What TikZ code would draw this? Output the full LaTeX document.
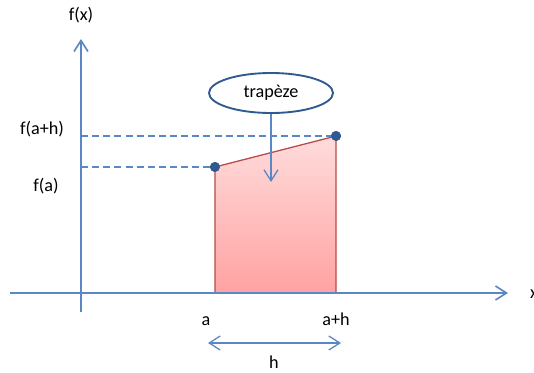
\documentclass[tikz,border=0pt]{standalone}
\usepackage{fontspec}
\setmainfont{Carlito}
\usetikzlibrary{arrows.meta,shapes.geometric}
\definecolor{axisblue}{HTML}{5B87C5}
\definecolor{dotblue}{HTML}{2F5A8F}
\definecolor{edgered}{HTML}{B94A48}
\definecolor{pinktop}{HTML}{FFDCDC}
\definecolor{pinkbot}{HTML}{FFA2A2}
\tikzset{
  axisline/.style={axisblue,line width=1.4pt},
  guide/.style={axisblue,line width=1pt,dash pattern=on 6pt off 3.5pt},
  pt/.style={circle,fill=dotblue,inner sep=0pt,minimum size=8.5pt},
  lab/.style={anchor=base}
}
\begin{document}
\begin{tikzpicture}[>={Straight Barb[length=3.3mm,width=4.2mm]},x=0.03cm,y=-0.03cm,
  font=\fontsize{15.5}{19}\selectfont]
  \useasboundingbox (0,0) rectangle (534,373);
  % axes
  \coordinate (xs) at (10,293);
  \coordinate (xe) at (508,293);
  \coordinate (ys) at (81,312);
  \coordinate (ye) at (81,39);
  % trapezoid corners
  \coordinate (A) at (215,293);
  \coordinate (B) at (336,293);
  \node[pt] (fa) at (215,167) {};
  \node[pt] (fah) at (336,136) {};
  \shade[top color=pinktop,bottom color=pinkbot]
    (A) -- (fa.center) -- (fah.center) -- (B) -- cycle;
  \draw[edgered,line width=1.1pt] (A) -- (fa.center) -- (fah.center) -- (B);
  \node[pt] at (fa) {};
  \node[pt] at (fah) {};
  \draw[guide] (81,167) -- (fa);
  \draw[guide] (81,136) -- (fah);
  \draw[axisline,->] (xs) -- (xe);
  \draw[axisline,->] (ys) -- (ye);
  % labels
  \node (fx) at (81,15) {f(x)};
  \node (lfah) at (42,129) {f(a+h)};
  \node (lfa) at (46,186) {f(a)};
  \node[lab] (la) at (206,325) {a};
  \node[lab] (lah) at (336,325) {a+h};
  \node[lab] (lh) at (274,368) {h};
  \node[anchor=base west,inner sep=0pt] (lx) at (530,298) {x};
  % width arrow
  \coordinate (hl) at (208,343);
  \coordinate (hr) at (341,343);
  \draw[axisline,line width=1.1pt,<->] (hl) -- (hr);
  % callout
  \node[ellipse,draw=dotblue,line width=1.6pt,fill=white,minimum width=3.72cm,
    minimum height=1.2cm] (bubble) at (271,93) {};
  \node (lt) at (bubble) {trapèze};
  \coordinate (tip) at (271,182);
  \draw[axisline,line width=1.1pt,->] (bubble.south) -- (tip);
\end{tikzpicture}
\end{document}
